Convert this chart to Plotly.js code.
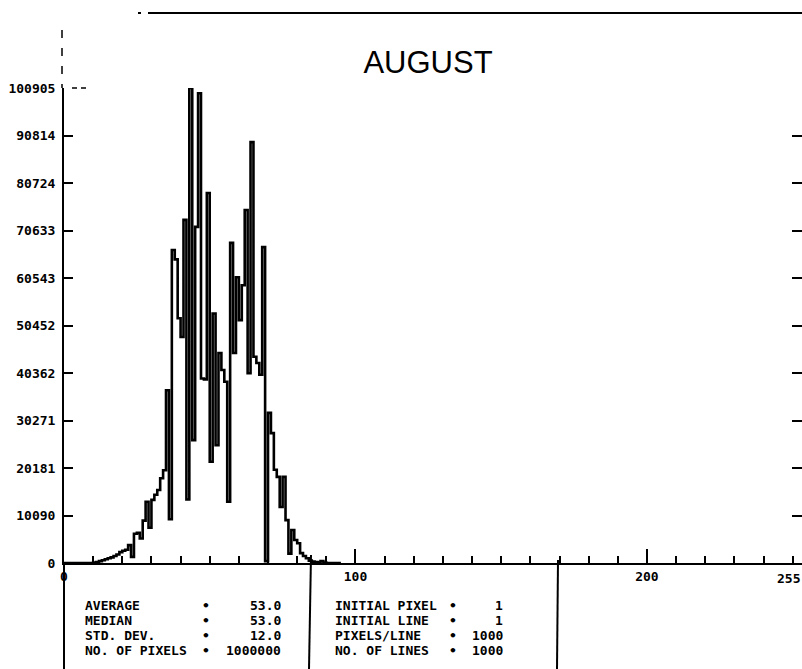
<!DOCTYPE html>
<html>
<head>
<meta charset="utf-8">
<script src="https://cdn.plot.ly/plotly-3.0.1.min.js"></script>
<style>html,body{margin:0;padding:0;background:#fff;}#chart{width:802px;height:669px;}</style>
</head>
<body>
<div id="chart"></div>
<script>
// Histogram counts per grey level (bins 0..95; all higher levels are empty)
const greyLevels = [];
for (let i = 0; i <= 95; i++) greyLevels.push(i);
const counts = [
  0, 0, 0, 0, 0, 0, 0, 0, 0, 0,
  100, 200, 400, 600, 800, 1000, 1200, 1500, 1800, 2300,
  2600, 2800, 3800, 1300, 6200, 6400, 5200, 9000, 13000, 7500,
  13400, 14500, 15500, 18000, 19700, 36700, 9300, 66500, 64500, 52000,
  48000, 72900, 13500, 100905, 26100, 71400, 99800, 39200, 39000, 78600,
  21500, 53000, 25000, 44600, 41000, 38500, 13000, 68000, 44600, 60700,
  51600, 59000, 75000, 40300, 89400, 43800, 42500, 40000, 67100, 400,
  31900, 27600, 19800, 18300, 11900, 18300, 9100, 2000, 7000, 4900,
  4200, 2100, 1500, 1000, 500, 300, 200, 100, 400, 100,
  0, 0, 0, 0, 0, 0
];

const yTickValues = [0, 10090.5, 20181, 30271.5, 40362, 50452.5, 60543, 70633.5, 80724, 90814.5, 100905];
const yTickLabels = ['0', '10090', '20181', '30271', '40362', '50452', '60543', '70633', '80724', '90814', '100905'];
const xTickValues = [0, 100, 200];
const xTickLabels = ['0', '100', '200'];
const xEndLabel = '255';

const chartTitle = 'AUGUST';
const statLabels = ['AVERAGE', 'MEDIAN', 'STD. DEV.', 'NO. OF PIXELS'];
const statValues = ['53.0', '53.0', '12.0', '1000000'];
const infoLabels = ['INITIAL PIXEL', 'INITIAL LINE', 'PIXELS/LINE', 'NO. OF LINES'];
const infoValues = ['1', '1', '1000', '1000'];

// layout helpers (pixel -> paper)
const L = 64, R = 802, T = 88, B = 563;
const px = x => (x - L) / (R - L);
const py = y => (B - y) / (B - T);

const monoBold = {family: 'DejaVu Sans Mono', size: 13, color: '#000', weight: 'bold'};

const annotations = [];
const rowsY = [605, 620, 635, 650];
statLabels.forEach((t, i) => {
  annotations.push({xref: 'paper', yref: 'paper', x: px(83), y: py(rowsY[i]), text: t, showarrow: false, xanchor: 'left', yanchor: 'middle', font: monoBold});
  annotations.push({xref: 'paper', yref: 'paper', x: px(206), y: py(rowsY[i]), text: '•', showarrow: false, xanchor: 'center', yanchor: 'middle', font: monoBold});
  annotations.push({xref: 'paper', yref: 'paper', x: px(283), y: py(rowsY[i]), text: statValues[i], showarrow: false, xanchor: 'right', yanchor: 'middle', font: monoBold});
});
infoLabels.forEach((t, i) => {
  annotations.push({xref: 'paper', yref: 'paper', x: px(333), y: py(rowsY[i]), text: t, showarrow: false, xanchor: 'left', yanchor: 'middle', font: monoBold});
  annotations.push({xref: 'paper', yref: 'paper', x: px(453), y: py(rowsY[i]), text: '•', showarrow: false, xanchor: 'center', yanchor: 'middle', font: monoBold});
  annotations.push({xref: 'paper', yref: 'paper', x: px(505), y: py(rowsY[i]), text: infoValues[i], showarrow: false, xanchor: 'right', yanchor: 'middle', font: monoBold});
});
annotations.push({xref: 'paper', yref: 'paper', x: 1, y: py(578), text: xEndLabel, showarrow: false, xanchor: 'right', yanchor: 'middle', font: monoBold});

const blk = {color: '#000', width: 2};
const shapes = [
  {type: 'line', xref: 'paper', yref: 'paper', x0: px(138), x1: px(141), y0: py(13), y1: py(13), line: {color: '#000', width: 2}},
  {type: 'line', xref: 'paper', yref: 'paper', x0: px(148), x1: px(802), y0: py(13), y1: py(13), line: {color: '#000', width: 2}},
  {type: 'line', xref: 'paper', yref: 'paper', x0: px(62), x1: px(62), y0: py(30), y1: py(88), line: {color: '#000', width: 1.5, dash: '8px,10px'}},
  {type: 'line', xref: 'paper', yref: 'paper', x0: px(72), x1: px(86), y0: py(88), y1: py(88), line: {color: '#000', width: 1.5, dash: '5px,4px'}},
  {type: 'line', xref: 'paper', yref: 'paper', x0: px(64), x1: px(64), y0: py(563), y1: py(669), line: blk},
  {type: 'line', xref: 'paper', yref: 'paper', x0: px(311), x1: px(309), y0: py(555), y1: py(669), line: blk},
  {type: 'line', xref: 'paper', yref: 'paper', x0: px(558), x1: px(557), y0: py(560), y1: py(669), line: blk}
];

const traces = [
  {x: greyLevels, y: counts, type: 'scatter', mode: 'lines', line: {shape: 'hv', color: '#000', width: 2.6}, hoverinfo: 'none', showlegend: false},
  {x: [], y: [], type: 'scatter', mode: 'lines', yaxis: 'y2', showlegend: false, hoverinfo: 'none'}
];

const layout = {
  width: 802, height: 669,
  margin: {l: L, r: 0, t: T, b: 669 - B, pad: 0},
  paper_bgcolor: '#fff', plot_bgcolor: '#fff',
  showlegend: false,
  title: {text: chartTitle, xref: 'container', yref: 'container', x: 428 / 802, xanchor: 'center', y: 1 - 62 / 669, yanchor: 'middle', font: {family: 'Liberation Sans', size: 31, color: '#000'}},
  xaxis: {
    range: [0, 253.2], showgrid: false, zeroline: false, showline: true, linecolor: '#000', linewidth: 2,
    ticks: 'inside', ticklen: 14, tickwidth: 2, tickcolor: '#000',
    tickvals: xTickValues, ticktext: xTickLabels, tickfont: {family: 'DejaVu Sans Mono', size: 13, color: '#000', weight: 'bold'},
    minor: {dtick: 10, tick0: 0, ticks: 'inside', ticklen: 7, tickwidth: 2, tickcolor: '#000', showgrid: false},
    fixedrange: true
  },
  yaxis: {
    range: [0, 100905], showgrid: false, zeroline: false, showline: true, linecolor: '#000', linewidth: 2,
    ticks: 'inside', ticklen: 9, tickwidth: 2, tickcolor: '#000',
    tickvals: yTickValues, ticktext: yTickLabels, tickfont: {family: 'DejaVu Sans Mono', size: 13, color: '#000', weight: 'bold'},
    ticklabelstandoff: 4, fixedrange: true
  },
  yaxis2: {
    overlaying: 'y', side: 'right', range: [0, 100905], showgrid: false, zeroline: false, showline: false,
    ticks: 'inside', ticklen: 10, tickwidth: 2, tickcolor: '#000',
    tickvals: yTickValues, showticklabels: false, fixedrange: true
  },
  shapes: shapes,
  annotations: annotations
};

Plotly.newPlot('chart', traces, layout, {staticPlot: true, displayModeBar: false});
</script>
</body>
</html>
